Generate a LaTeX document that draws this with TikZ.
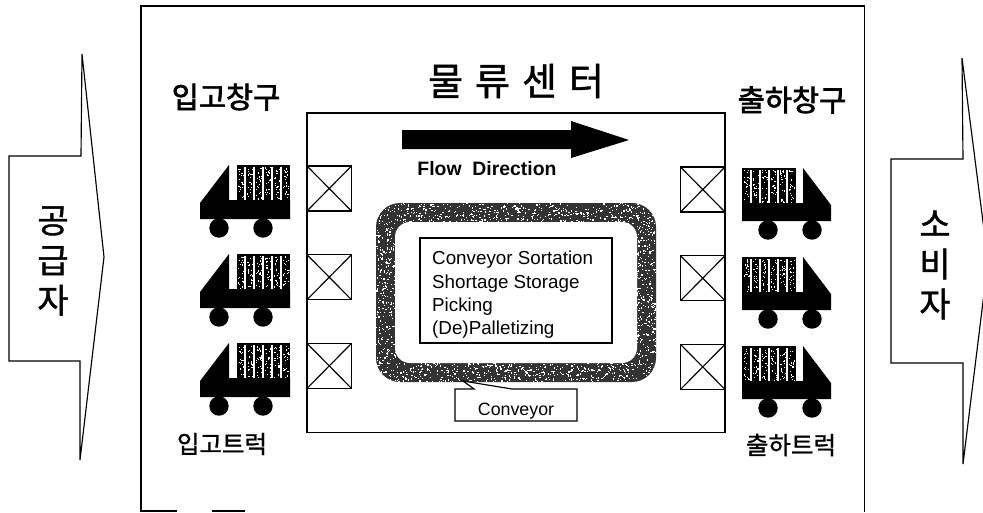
\documentclass[tikz,border=0pt]{standalone}
\usepackage{fontspec}
\setmainfont{Liberation Sans}
\newfontfamily\krfont[FakeBold=1.2]{Noto Sans CJK KR}
\newfontfamily\krheavy[FakeBold=2.2]{Noto Sans CJK KR}
\usepackage{tikz}
\usetikzlibrary{calc}
\tikzset{
  frameline/.style={draw=black, line width=1.15pt},
  bigkr/.style={font=\krfont\fontsize{34}{40}\selectfont, align=center, inner sep=0pt},
  labelkr/.style={font=\krheavy\fontsize{29.5}{32}\selectfont, inner sep=0pt},
  smallkr/.style={font=\krfont\fontsize{24.5}{28}\selectfont, inner sep=0pt},
  smalltext/.style={font=\fontsize{18.8}{23.2}\selectfont, align=left, inner sep=0pt}
}
\newcommand{\speckle}[6]{%  \speckle{x}{y}{w}{h}{count}{dot size}
  \foreach \n in {1,...,#5}{%
    \pgfmathsetmacro{\sx}{#1+rnd*#3}%
    \pgfmathsetmacro{\sy}{#2+rnd*#4}%
    \fill[white] (\sx,\sy) rectangle +(#6,#6);}}
\newcommand{\crossbox}[2]{%  \crossbox{x}{y}
  \draw[frameline, fill=white] (#1,#2) rectangle +(44.5,45);
  \draw[frameline] (#1,#2) -- +(44.5,45) (#1+44.5,#2) -- +(-44.5,45);}
\newcommand{\cargo}[2]{%  \cargo{x}{y}
  \fill[black] (#1,#2) rectangle +(53.5,35);
  \foreach \k in {0,...,4}{\fill[white] (#1+7.5+\k*9,#2+2) rectangle +(2.4,33);}
  \foreach \k in {0,...,5}{\speckle{#1+1.5+\k*9}{#2+2}{5.5}{32}{22}{1.1}}}
\newcommand{\truckin}[2]{%  \truckin{x}{y}, x,y = top of the cab
  \fill[black] (#1,#2) -- (#1-29,#2+38) -- (#1-29,#2+54) -- (#1+61,#2+54)
        -- (#1+61,#2+35) -- (#1,#2+35) -- cycle;
  \cargo{#1+7.5}{#2}
  \fill[black] (#1-10,#2+63) circle (9.7) (#1+34,#2+63) circle (9.7);}
\newcommand{\truckout}[2]{%  \truckout{x}{y}, x,y = top of the cab
  \fill[black] (#1,#2) -- (#1+28,#2+37) -- (#1+28,#2+53) -- (#1-61,#2+53)
        -- (#1-61,#2+35) -- (#1,#2+35) -- cycle;
  \cargo{#1-61}{#2}
  \fill[black] (#1-35,#2+62) circle (9.7) (#1+9,#2+62) circle (9.7);}

\begin{document}
\begin{tikzpicture}[x=1pt, y=-1pt]
  \useasboundingbox (0,0) rectangle (983,512);
  \pgfmathsetseed{11}

  % ── supply and consumer arrows ──
  \draw[frameline, line join=miter] (82,54) -- (104,257) -- (80,460) -- (80,361)
        -- (9,361) -- (9,156) -- (81,156) -- cycle;
  \node[bigkr] (supplier) at (53,261) {공\\급\\자};
  \draw[frameline, line join=miter] (962,58) -- (988,261) -- (963,464) -- (963,363)
        -- (891,363) -- (891,159) -- (963,159) -- cycle;
  \node[bigkr] (consumer) at (935,265) {소\\비\\자};

  % ── outer frame (bottom line mostly lost) ──
  \draw[frameline, line width=1.4pt] (177,511) -- (141,511) -- (141,6)
        -- (864.5,6) -- (864.5,512);
  \draw[frameline] (212,511) -- (245,511);

  % ── titles ──
  \node[font=\krfont\fontsize{38}{42}\selectfont, inner sep=0pt] (center) at (516,81)
        {물\hspace{12pt}류\hspace{12pt}센\hspace{12pt}터};
  \node[labelkr] (dockin) at (226,97) {입고창구};
  \node[labelkr] (dockout) at (792,100) {출하창구};
  \node[smallkr] (truckinlabel) at (222,444) {입고트럭};
  \node[smallkr] (truckoutlabel) at (791,445) {출하트럭};

  % ── inner hall and flow arrow ──
  \draw[frameline] (307,113) rectangle (725,432.5);
  \fill[black] (402,130) -- (571,130) -- (571,121) -- (629,140) -- (571,158)
        -- (571,149) -- (402,149) -- cycle;
  \node[font=\bfseries\fontsize{19.4}{22}\selectfont, inner sep=0pt] (flow) at (487,169)
        {Flow\ \ Direction};

  % ── dock doors ──
  \foreach \row in {0,1,2}{
    \crossbox{307}{166+\row*88.7}
    \crossbox{680.5}{167+\row*88.7}
  }

  % ── trucks ──
  \foreach \row in {0,1,2}{
    \truckin{229}{165+\row*89}
    \truckout{803}{168+\row*89}
  }

  % ── conveyor ring ──
  \fill[black!80, rounded corners=24pt] (376,203) rectangle (656,382);
  \begin{scope}
    \clip[rounded corners=24pt] (376,203) rectangle (656,382);
    \speckle{376}{203}{280}{20}{520}{1.2}
    \speckle{376}{362}{280}{20}{520}{1.2}
    \speckle{376}{222}{20}{141}{270}{1.2}
    \speckle{636}{222}{20}{141}{270}{1.2}
  \end{scope}
  \fill[white, rounded corners=15pt] (395,222) rectangle (637,363);

  % ── process box ──
  \node[frameline, fill=white, minimum width=192pt, minimum height=105pt, inner sep=0pt]
        (processbox) at (516,290.5) {};
  \node[smalltext, anchor=north west] (processes) at (432,251)
        {Conveyor Sortation\\Shortage Storage\\Picking\\(De)Palletizing};

  % ── conveyor callout ──
  \draw[frameline, fill=white] (455,389) -- (474,389) -- (463,381) -- (512,389)
        -- (577,389) -- (577,421) -- (455,421) -- cycle;
  \node[font=\fontsize{17.8}{20}\selectfont, inner sep=0pt] (conveyor) at (516,411.5) {Conveyor};
\end{tikzpicture}
\end{document}
